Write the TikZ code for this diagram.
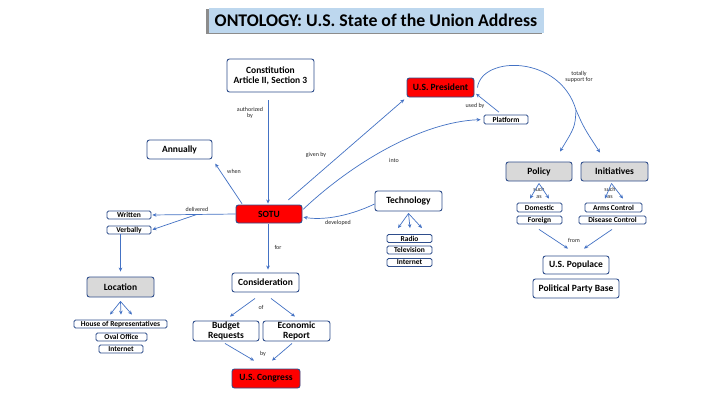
\documentclass[tikz,border=0pt]{standalone}
\usepackage{fontspec}
\setmainfont{Carlito}
\usetikzlibrary{arrows.meta,calc}
\definecolor{bord}{HTML}{2F4E8C}
\definecolor{arrc}{HTML}{4472C4}
\definecolor{redf}{HTML}{FF0000}
\definecolor{grayf}{HTML}{D9D9D9}
\definecolor{titlef}{HTML}{BDD7EE}
\definecolor{shadowc}{HTML}{8C8C8C}
\tikzset{
  bx/.style={draw=bord, rounded corners=2.5pt, line width=0.9pt, fill=white, inner sep=0pt, align=center, font=\fontsize{9.5}{10}\selectfont\bfseries},
  sm/.style={bx, rounded corners=1.5pt, line width=0.8pt, font=\fontsize{7.5}{7.5}\selectfont\bfseries},
  redbox/.style={fill=redf},
  graybox/.style={fill=grayf},
  lbl/.style={font=\fontsize{6}{6.6}\selectfont, align=center, text=black!85, inner sep=0pt},
  arr/.style={draw=arrc, line width=0.7pt, -{Stealth[length=4pt,width=3.6pt]}},
  plain/.style={draw=arrc, line width=0.7pt}
}
\begin{document}
\begin{tikzpicture}[x=1pt,y=-1pt]
\useasboundingbox (0,0) rectangle (720,405);
\fill[white] (0,0) rectangle (720,405);
% title
\fill[shadowc] (206,9) rectangle (542,34);
\node[fill=titlef, minimum width=335pt, minimum height=25pt, inner sep=0pt, font=\fontsize{17.8}{19}\selectfont\bfseries] (title) at (376,20) {ONTOLOGY: U.S. State of the Union Address};

% nodes
\node[bx, minimum width=87pt, minimum height=33pt] (const) at (270.5,75.5) {Constitution\\Article II, Section 3};
\node[bx, minimum width=65pt, minimum height=19pt] (annual) at (179.5,149.5) {Annually};
\node[bx, redbox, minimum width=67pt, minimum height=19pt] (pres) at (440.5,87.5) {U.S. President};
\node[sm, minimum width=44pt, minimum height=9pt] (platform) at (506,119.5) {Platform};
\node[bx, redbox, minimum width=66pt, minimum height=18pt] (sotu) at (269,214) {SOTU};
\node[sm, minimum width=44pt, minimum height=8pt] (written) at (129,215) {Written};
\node[sm, minimum width=44pt, minimum height=8pt] (verbally) at (129,230) {Verbally};
\node[bx, graybox, minimum width=67pt, minimum height=20pt] (location) at (120.5,287) {Location};
\node[sm, minimum width=93pt, minimum height=8pt] (house) at (120.5,324) {House of Representatives};
\node[sm, minimum width=51pt, minimum height=8pt] (oval) at (121.5,337) {Oval Office};
\node[sm, minimum width=44pt, minimum height=8pt] (netA) at (121,349) {Internet};
\node[bx, minimum width=67pt, minimum height=19pt] (consid) at (265.5,282.5) {Consideration};
\node[bx, minimum width=66pt, minimum height=20pt] (budget) at (226,331) {Budget\\Requests};
\node[bx, minimum width=67pt, minimum height=20pt] (econ) at (296.5,331) {Economic\\Report};
\node[bx, redbox, minimum width=68pt, minimum height=19pt] (congress) at (266,378.5) {U.S. Congress};
\node[bx, minimum width=67pt, minimum height=20pt] (tech) at (408.5,201) {Technology};
\node[sm, minimum width=45pt, minimum height=8pt] (radio) at (409.5,238.5) {Radio};
\node[sm, minimum width=45pt, minimum height=8pt] (tv) at (409.5,250) {Television};
\node[sm, minimum width=45pt, minimum height=8pt] (netB) at (409.5,262.5) {Internet};
\node[bx, graybox, minimum width=66pt, minimum height=19pt] (policy) at (539,171.5) {Policy};
\node[bx, graybox, minimum width=67pt, minimum height=19pt] (init) at (614.5,171.5) {Initiatives};
\node[sm, minimum width=45pt, minimum height=9pt] (domestic) at (539.5,207.5) {Domestic};
\node[sm, minimum width=45pt, minimum height=8pt] (foreign) at (539.5,220) {Foreign};
\node[sm, minimum width=57pt, minimum height=9pt] (arms) at (613.5,207.5) {Arms Control};
\node[sm, minimum width=67pt, minimum height=8pt] (disease) at (612.5,220) {Disease Control};
\node[bx, minimum width=66pt, minimum height=18pt] (populace) at (576,265) {U.S. Populace};
\node[bx, minimum width=86pt, minimum height=19pt] (party) at (576,288.5) {Political Party Base};

% labels
\node[lbl] (lauth) at (250,113) {authorized\\by};
\node[lbl] (lwhen) at (234,171) {when};
\node[lbl] (lgiven) at (316,155) {given by};
\node[lbl] (linto) at (394,160) {into};
\node[lbl] (lused) at (475,106) {used by};
\node[lbl] (ltot) at (579,77) {totally\\support for};
\node[lbl] (ldel) at (197,209) {delivered};
\node[lbl] (ldev) at (338,223) {developed};
\node[lbl] (lfor) at (278,247) {for};
\node[lbl] (lof) at (261,307) {of};
\node[lbl] (lby) at (263,354) {by};
\node[lbl] (lsuch1) at (539,193) {such\\as};
\node[lbl] (lsuch2) at (610,193) {such\\as};
\node[lbl] (lfrom) at (574,240) {from};

% connectors
\draw[arr, shorten <=8pt, shorten >=1pt] ([xshift=-2.5pt]const.south) -- ([xshift=-1pt]sotu.north);
\draw[arr, shorten <=1pt, shorten >=5pt] ([xshift=7pt]sotu.north west) -- (annual.south east);
\draw[arr, shorten <=7pt, shorten >=3pt] ([xshift=14pt]sotu.north) -- (pres.south west);
\draw[arr, shorten <=1pt, shorten >=3pt] ([yshift=4pt]sotu.east) .. controls (350,165) and (420,122) .. (platform.west);
\draw[arr, shorten <=4pt, shorten >=2pt] ([xshift=-4pt]platform.north) -- ([yshift=-5pt]pres.east);
\coordinate (split) at (576,110);
\draw[plain] ([xshift=3pt]pres.east) .. controls (482,55) and (560,55) .. (split);
\draw[arr] (split) .. controls (575,127) .. ($(policy.north)+(21,-10)$);
\draw[arr] (split) .. controls (584,128) .. ($(init.north)+(-14.5,-9)$);
\draw[arr, shorten >=1pt] (sotu.west) -- (written.east);
\coordinate (dv) at ($(sotu.west)!0.46!(written.east)$);
\draw[arr, shorten >=1pt] (dv) -- (verbally.east);
\draw[arr, shorten >=5pt] (verbally.south -| location.north) -- (location.north);
\draw[arr] ([yshift=-4pt]location.south) -- ($(house.north)+(-10.5,-5)$);
\draw[arr] ([yshift=-4pt]location.south) -- ($(house.north)+(0.5,-5)$);
\draw[arr] ([yshift=-4pt]location.south) -- ($(house.north)+(11.5,-5)$);
\draw[arr] ([yshift=-2pt]tech.south) -- ($(radio.north)+(-11.5,-6)$);
\draw[arr] ([yshift=-2pt]tech.south) -- ($(radio.north)+(0.5,-6)$);
\draw[arr] ([yshift=-2pt]tech.south) -- ($(radio.north)+(12.5,-6)$);
\draw[arr, shorten >=1pt] ([yshift=-3pt]tech.west) .. controls (345,218) and (320,220) .. ([yshift=-3pt]sotu.east);
\draw[arr, shorten <=1pt, shorten >=3pt] ([xshift=-1pt]sotu.south) -- ([xshift=-1pt]sotu.south |- consid.north);
\draw[arr] ($(consid.south)+(-10.5,6)$) -- ($(budget.north)+(4,-4)$);
\draw[arr] ($(consid.south)+(5.5,6)$) -- ($(econ.north)+(-1.5,-4)$);
\draw[arr] ($(budget.south)+(-1,2)$) -- ($(congress.north)+(-12,-8)$);
\draw[arr] ($(econ.south)+(-4.5,2)$) -- ($(congress.north)+(6,-8)$);
\draw[arr] ($(policy.south)+(0,2)$) -- ($(domestic.north)+(-9.5,-4)$);
\draw[arr] ($(policy.south)+(0,2)$) -- ($(domestic.north)+(9.5,-4)$);
\draw[arr] ($(init.south)+(-3,2)$) -- ($(arms.north)+(-8.5,-4)$);
\draw[arr] ($(init.south)+(-3,2)$) -- ($(arms.north)+(9.5,-4)$);
\draw[arr] ($(foreign.south)+(-0.5,5)$) -- ($(populace.north)+(-8,-7)$);
\draw[arr] ($(disease.south)+(-0.5,5)$) -- ($(populace.north)+(8,-7)$);
\end{tikzpicture}
\end{document}
